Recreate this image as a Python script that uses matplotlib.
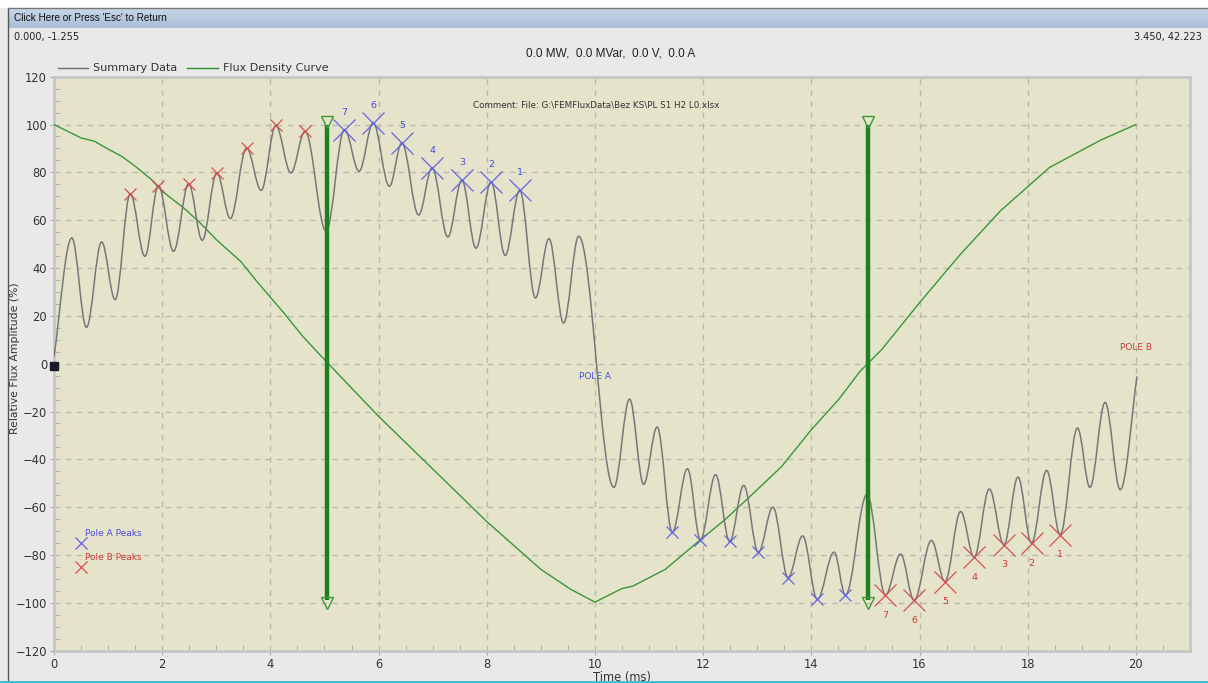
import matplotlib
matplotlib.use("Agg")
import matplotlib.pyplot as plt
import numpy as np
from matplotlib.path import Path
from matplotlib.patches import PathPatch, Rectangle
from matplotlib.lines import Line2D
from matplotlib.ticker import MultipleLocator
from matplotlib.colors import LinearSegmentedColormap

# ---------------- data ----------------
# Summary data: turning points of the waveform (time ms, relative flux %)
sum_t = [0.00, 0.33, 0.60, 0.88, 1.13, 1.41, 1.68, 1.93, 2.21, 2.49, 2.74, 3.01,
         3.26, 3.56, 3.83, 4.10, 4.38, 4.64, 5.03, 5.37, 5.64, 5.90, 6.20, 6.43,
         6.74, 6.99, 7.28, 7.54, 7.80, 8.08, 8.34, 8.61, 8.90, 9.15, 9.42, 9.70,
         10.35, 10.64, 10.90, 11.15, 11.43, 11.71, 11.95, 12.23, 12.49, 12.75,
         13.02, 13.29, 13.57, 13.84, 14.11, 14.42, 14.63, 15.03, 15.37, 15.65,
         15.90, 16.22, 16.47, 16.76, 17.01, 17.29, 17.56, 17.82, 18.07, 18.35,
         18.60, 18.92, 19.15, 19.43, 19.71, 20.02]
sum_v = [3.0, 52.6, 15.2, 50.9, 26.8, 71.1, 44.9, 74.5, 47.0, 75.3, 51.6, 79.8,
         60.7, 90.2, 72.5, 99.6, 79.8, 97.2, 55.4, 97.9, 80.5, 100.7, 74.2, 92.3,
         62.2, 81.9, 53.0, 76.7, 48.3, 76.0, 45.3, 72.5, 27.5, 52.3, 17.0, 53.3,
         -51.7, -14.8, -50.4, -26.5, -70.4, -43.9, -73.6, -46.4, -74.3, -50.9,
         -78.8, -60.0, -89.4, -72.0, -98.5, -78.8, -96.7, -54.6, -96.7, -79.6,
         -99.0, -73.9, -91.1, -61.8, -80.9, -52.4, -75.7, -47.4, -75.0, -44.6,
         -71.5, -26.9, -51.7, -16.2, -52.7, -5.3]

# Flux density curve
flux_t = [0, 0.5, 0.75, 0.9, 1.25, 1.5, 1.8, 2.0, 2.4, 2.7, 3.0, 3.45, 3.75, 4.25,
          4.6, 5.05, 6.0, 7.0, 8.0, 9.0, 9.55, 10.0, 10.5, 10.7, 11.3, 11.95, 12.4,
          12.9, 13.45, 14.0, 14.5, 14.9, 15.3, 16.0, 16.75, 17.5, 18.4, 19.35, 20.0]
flux_v = [100, 94.4, 93, 91, 86.7, 82.6, 77, 72.1, 65.1, 58.9, 51.9, 42.8, 34.4, 21.2,
          11.4, 0.5, -22, -44, -66, -86, -94.3, -99.7, -94, -93, -86, -73.6, -65.3,
          -54.8, -43, -27.6, -15.1, -3.2, 5.9, 25.5, 45.6, 64, 82, 93.5, 100]

# Pole A peaks (large blue X, labelled) and Pole B troughs (large red X, labelled)
poleA_t = [8.61, 8.08, 7.54, 6.99, 6.43, 5.90, 5.37]
poleA_v = [72.5, 76.0, 76.7, 81.9, 92.3, 100.7, 97.9]
poleB_t = [18.60, 18.07, 17.56, 17.01, 16.47, 15.90, 15.37]
poleB_v = [-71.5, -75.0, -75.7, -80.9, -91.1, -99.0, -96.7]
peak_labels = ["1", "2", "3", "4", "5", "6", "7"]

# small markers
smallB_t = [1.41, 1.93, 2.49, 3.01, 3.56, 4.10, 4.64]
smallB_v = [71.1, 74.5, 75.3, 79.8, 90.2, 99.6, 97.2]
smallA_t = [11.43, 11.95, 12.49, 13.02, 13.57, 14.11, 14.63]
smallA_v = [-70.4, -73.6, -74.3, -78.8, -89.4, -98.5, -96.7]

# cursor arrows
arrow_t = [5.05, 15.04]
arrow_top = 101
arrow_bottom = -100

# ---------------- figure ----------------
W, H = 1208, 683
fig = plt.figure(figsize=(W / 100, H / 100), dpi=100, facecolor="#e9e9e9")

def fx(px):
    return px / W

def fy(py):
    return 1 - py / H

# window chrome
fig.add_artist(Rectangle((0, fy(8)), 1, 8 / H, transform=fig.transFigure,
                         facecolor="white", edgecolor="none"))
bar = fig.add_axes([fx(8), fy(28), 1 - fx(8), 20 / H])
grad = np.linspace(0, 1, 50).reshape(-1, 1)
cm = LinearSegmentedColormap.from_list("bar", ["#c9d7e8", "#a9bdd6"])
bar.imshow(grad, aspect="auto", cmap=cm, extent=[0, 1, 0, 1])
bar.set_axis_off()
fig.add_artist(Line2D([fx(8), fx(8)], [fy(8), fy(683)], transform=fig.transFigure,
                      color="#555555", lw=1))
fig.add_artist(Line2D([fx(8), 1], [fy(8), fy(8)], transform=fig.transFigure,
                      color="#777777", lw=1))
fig.add_artist(Line2D([0, 1], [fy(682), fy(682)], transform=fig.transFigure,
                      color="#3cb8dc", lw=2))
fig.text(fx(14), fy(18), "Click Here or Press 'Esc' to Return", fontsize=7.2,
         family="Liberation Sans", color="#111111", va="center", ha="left")
fig.text(fx(14), fy(37), "0.000, -1.255", fontsize=7, family="DejaVu Sans",
         color="#222222", va="center", ha="left")
fig.text(fx(1202), fy(37), "3.450, 42.223", fontsize=7, family="DejaVu Sans",
         color="#222222", va="center", ha="right")
fig.text(fx(611), fy(54), "0.0 MW,  0.0 MVar,  0.0 V,  0.0 A", fontsize=8.5,
         family="Liberation Sans", color="#222222", va="center", ha="center")

# legend above the plot
fig.add_artist(Line2D([fx(58), fx(88)], [fy(68), fy(68)], transform=fig.transFigure,
                      color="#707070", lw=1))
fig.text(fx(93), fy(68), "Summary Data", fontsize=8.0, color="#333333",
         va="center", ha="left")
fig.add_artist(Line2D([fx(187), fx(218)], [fy(68), fy(68)], transform=fig.transFigure,
                      color="#2e8b2e", lw=1))
fig.text(fx(223), fy(68), "Flux Density Curve", fontsize=8.0, color="#333333",
         va="center", ha="left")

# ---------------- axes ----------------
ax = fig.add_axes([fx(54), fy(650.7), fx(1190 - 54), (650.7 - 76.7) / H])
ax.set_facecolor("#e5e4ca")
ax.set_xlim(0, 21)
ax.set_ylim(-120, 120)
ax.xaxis.set_major_locator(MultipleLocator(2))
ax.xaxis.set_minor_locator(MultipleLocator(0.5))
ax.yaxis.set_major_locator(MultipleLocator(20))
ax.yaxis.set_minor_locator(MultipleLocator(5))
ax.set_xticks(np.arange(0, 21, 2))
ax.grid(True, which="major", linestyle=(0, (4, 4)), color="#b9b9b0", lw=1)
ax.set_axisbelow(True)
for s in ax.spines.values():
    s.set_color("#c6c6c6")
    s.set_linewidth(2)
ax.tick_params(which="major", direction="out", length=3, color="#a8a8a8",
               labelsize=8.3, labelcolor="#333333", pad=2)
ax.tick_params(which="minor", direction="in", length=4, color="#a8a8a8")
ax.set_xlabel("Time (ms)", fontsize=8.3, color="#333333", labelpad=0)
ax.set_ylabel("Relative Flux Amplitude (%)", fontsize=7.8, color="#333333")
ax.yaxis.set_label_coords(-0.030, 0.51)

# flux density curve
ax.plot(flux_t, flux_v, color="#3a963a", lw=1, zorder=3)

# summary data drawn as smooth cubic path through the turning points
k = 0.36
verts = [(sum_t[0], sum_v[0])]
codes = [Path.MOVETO]
n = len(sum_t)
for i in range(n - 1):
    t0, v0, t1, v1 = sum_t[i], sum_v[i], sum_t[i + 1], sum_v[i + 1]
    dt = t1 - t0
    c1 = (t0 + dt / 3, v0 + (v1 - v0) / 3) if i == 0 else (t0 + k * dt, v0)
    c2 = (t1 - dt / 3, v1 - (v1 - v0) / 3) if i == n - 2 else (t1 - k * dt, v1)
    verts += [c1, c2, (t1, v1)]
    codes += [Path.CURVE4] * 3
ax.add_patch(PathPatch(Path(verts, codes), fill=False, edgecolor="#777777",
                       lw=1.1, zorder=4))

# cursor arrows
for t in arrow_t:
    ax.plot([t, t], [arrow_top - 1, arrow_bottom + 1], color="#1f7f1f", lw=3.2,
            zorder=5, solid_capstyle="butt")
    ax.plot([t], [arrow_top], marker="v", ms=9, mfc="none", mec="#3a9a3a",
            mew=1, zorder=6)
    ax.plot([t], [arrow_bottom], marker="v", ms=9, mfc="none", mec="#3a9a3a",
            mew=1, zorder=6)

# markers
blue = "#6464e6"
red = "#d65050"
ax.plot(poleA_t, poleA_v, ls="none", marker="x", ms=16, mew=0.9, color=blue, zorder=7)
ax.plot(poleB_t, poleB_v, ls="none", marker="x", ms=16, mew=0.9, color=red, zorder=7)
ax.plot(smallB_t, smallB_v, ls="none", marker="x", ms=8, mew=0.9, color=red, zorder=7)
ax.plot(smallA_t, smallA_v, ls="none", marker="x", ms=8, mew=0.9, color=blue, zorder=7)
for t, v, lab in zip(poleA_t, poleA_v, peak_labels):
    ax.annotate(lab, (t, v), xytext=(0, 12.5), textcoords="offset points",
                ha="center", va="center", fontsize=6.8, color="#4a4ae0")
for t, v, lab in zip(poleB_t, poleB_v, peak_labels):
    ax.annotate(lab, (t, v), xytext=(0, -14.5), textcoords="offset points",
                ha="center", va="center", fontsize=6.8, color="#cc3a3a")

# marker legend inside plot
ax.plot([0.5], [-75], ls="none", marker="x", ms=8, mew=0.9, color=blue, zorder=7)
ax.plot([0.5], [-85], ls="none", marker="x", ms=8, mew=0.9, color=red, zorder=7)
ax.text(0.57, -70.8, "Pole A Peaks", fontsize=6.5, color="#4a4ae0", va="center", ha="left")
ax.text(0.57, -81.2, "Pole B Peaks", fontsize=6.5, color="#cc3a3a", va="center", ha="left")

# origin marker
ax.plot([0], [-0.9], marker="s", ms=6, color="#1a1a26", clip_on=False, zorder=8)

# texts
ax.text(10.03, 108, r"Comment: File: G:\FEMFluxData\Bez KS\PL S1 H2 L0.xlsx",
        fontsize=6.3, color="#333333", ha="center", va="center")
ax.text(10.0, -5.4, "POLE A", fontsize=6.5, color="#4a4ae0", ha="center", va="center")
ax.text(20.0, 6.7, "POLE B", fontsize=6.5, color="#cc3a3a", ha="center", va="center")

fig.savefig("out.png", dpi=100, facecolor=fig.get_facecolor())
